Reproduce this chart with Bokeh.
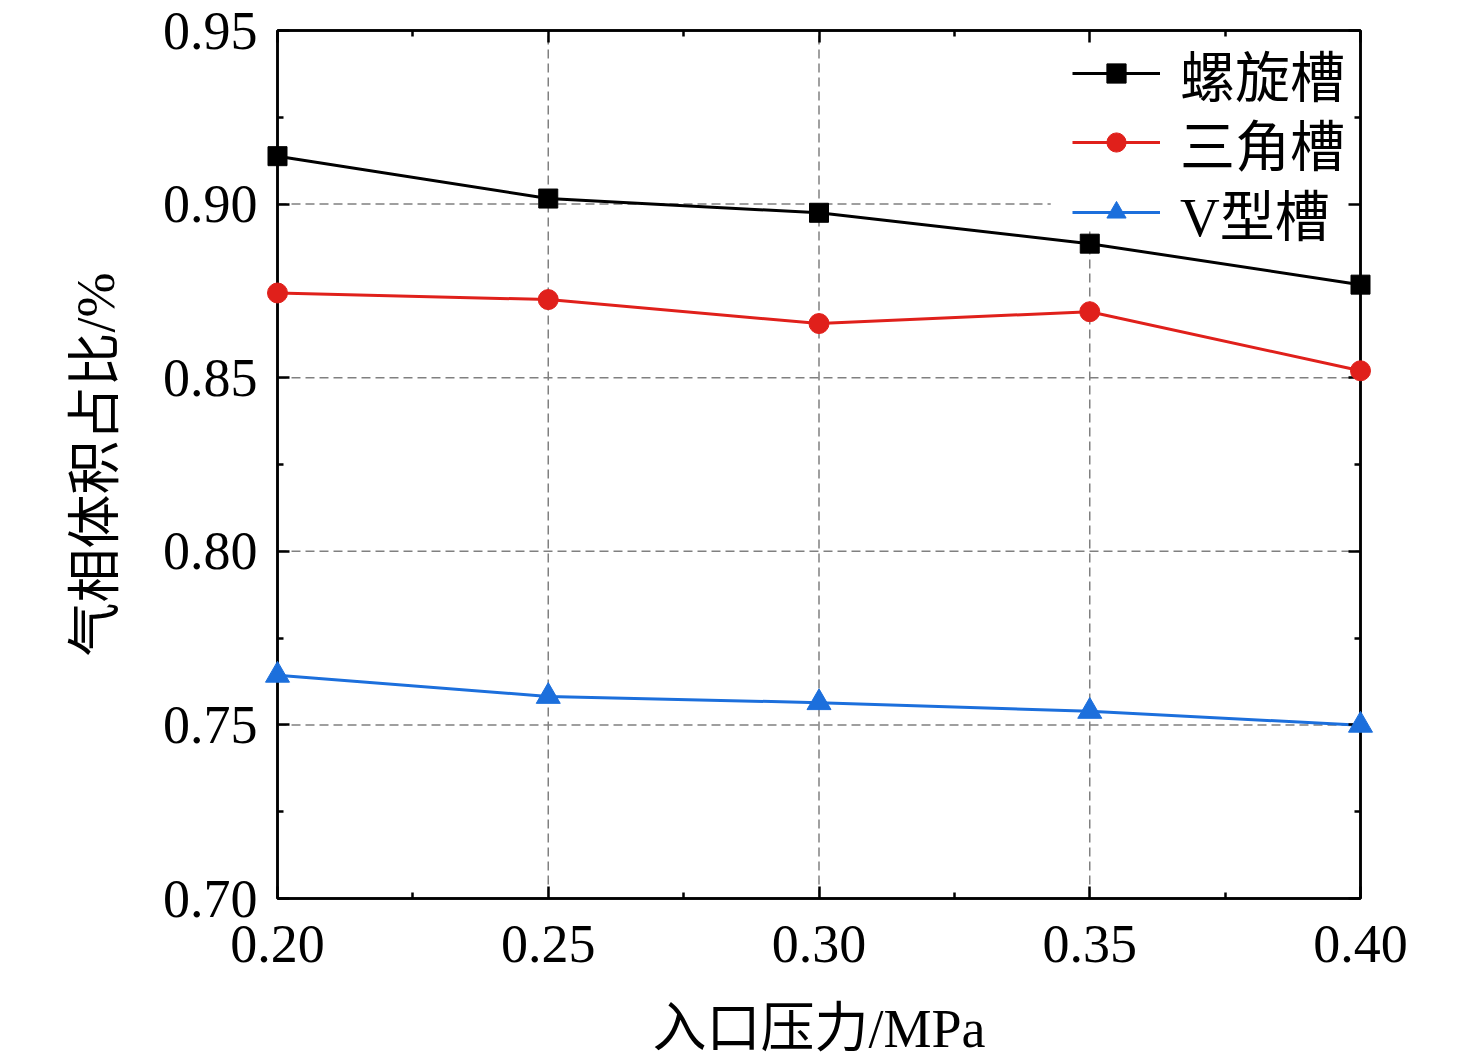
from bokeh.embed import file_html
from bokeh.models import CustomJSTickFormatter, FixedTicker, Legend, LegendItem, LinearAxis, Range1d
from bokeh.plotting import figure
from bokeh.resources import INLINE

pressure = [0.20, 0.25, 0.30, 0.35, 0.40]
spiral = [0.9138, 0.9016, 0.8975, 0.8886, 0.8768]
triangle = [0.8744, 0.8725, 0.8656, 0.8690, 0.8520]
v_groove = [0.7643, 0.7582, 0.7564, 0.7539, 0.7499]

series_names = ["螺旋槽", "三角槽", "V型槽"]
x_ticks = [0.20, 0.25, 0.30, 0.35, 0.40]
y_ticks = [0.70, 0.75, 0.80, 0.85, 0.90, 0.95]
minor_x = [0.225, 0.275, 0.325, 0.375]
minor_y = [0.725, 0.775, 0.825, 0.875, 0.925]

# where the legend box starts (grid lines stop there)
LEGEND_LEFT_X = 0.3428
LEGEND_BOTTOM_Y = 0.8924

FONT = "'Liberation Serif', 'Noto Sans CJK SC'"
RED = "#e0201b"
BLUE = "#1c6fdc"
GRID = "#808080"

p = figure(
    width=1460,
    height=1062,
    output_backend="svg",
    toolbar_location=None,
    x_range=Range1d(0.20, 0.40),
    y_range=Range1d(0.70, 0.95),
    min_border_left=277,
    min_border_top=30,
    min_border_right=100,
    min_border_bottom=164,
)
p.outline_line_color = "black"
p.outline_line_width = 2.5
p.xgrid.grid_line_color = None
p.ygrid.grid_line_color = None

# dashed grid at the inner major ticks, cut where the legend sits
x_min, x_max = x_ticks[0], x_ticks[-1]
y_min, y_max = y_ticks[0], y_ticks[-1]
vx = x_ticks[1:-1]
vtop = [y_max if x < LEGEND_LEFT_X else LEGEND_BOTTOM_Y for x in vx]
hy = y_ticks[1:-1]
hright = [x_max if y < LEGEND_BOTTOM_Y else LEGEND_LEFT_X for y in hy]
p.segment(x0=vx, y0=[y_min] * len(vx), x1=vx, y1=vtop,
          line_color=GRID, line_dash="9 5", line_width=1.5, level="underlay")
p.segment(x0=[x_min] * len(hy), y0=hy, x1=hright, y1=hy,
          line_color=GRID, line_dash="9 5", line_width=1.5, level="underlay")

# mirror axes on top and right, ticks only
top = LinearAxis()
right = LinearAxis()
p.add_layout(top, "above")
p.add_layout(right, "right")

for ax in p.xaxis:
    ax.ticker = FixedTicker(ticks=x_ticks, minor_ticks=minor_x)
for ax in p.yaxis:
    ax.ticker = FixedTicker(ticks=y_ticks, minor_ticks=minor_y)

for ax in p.xaxis + p.yaxis:
    ax.axis_line_width = 2.5
    ax.axis_line_color = "black"
    ax.major_tick_in = 12
    ax.major_tick_out = 0
    ax.minor_tick_in = 6
    ax.minor_tick_out = 0
    ax.major_tick_line_width = 2.5
    ax.minor_tick_line_width = 2.5
    ax.major_label_text_font = FONT
    ax.major_label_text_font_size = "54px"
    ax.major_label_text_color = "black"
    ax.axis_label_text_font = FONT
    ax.axis_label_text_font_size = "54px"
    ax.axis_label_text_font_style = "normal"
    ax.axis_label_text_color = "black"

for ax in (top, right):
    ax.major_label_text_font_size = "0px"
    ax.major_label_standoff = 0

fmt = CustomJSTickFormatter(code="return tick.toFixed(2);")
p.below[0].formatter = fmt
p.left[0].formatter = fmt
p.below[0].major_label_standoff = 27
p.left[0].major_label_standoff = 20
p.below[0].axis_label = "入口压力/MPa"
p.left[0].axis_label = "气相体积占比/%"
p.below[0].axis_label_standoff = 34
p.left[0].axis_label_standoff = 34

l1 = p.line(pressure, spiral, line_color="black", line_width=3)
m1 = p.scatter(pressure, spiral, marker="square", size=19, color="black", level="overlay")
l2 = p.line(pressure, triangle, line_color=RED, line_width=3)
m2 = p.scatter(pressure, triangle, marker="circle", size=20, color=RED, level="overlay")
l3 = p.line(pressure, v_groove, line_color=BLUE, line_width=3)
m3 = p.scatter(pressure, v_groove, marker="triangle", size=24, color=BLUE, level="overlay")

# one legend per row so the rows can sit closer than bokeh's text box height
rows = [(series_names[0], [l1, m1], 785), (series_names[1], [l2, m2], 716), (series_names[2], [l3, m3], 646)]
for name, rends, y_pos in rows:
    lg = Legend(
        items=[LegendItem(label=name, renderers=rends)],
        location=(795, y_pos),
        border_line_color=None,
        background_fill_alpha=0.0,
        label_text_font=FONT,
        label_text_font_size="55px",
        label_text_color="black",
        glyph_width=88,
        glyph_height=48,
        label_height=40,
        label_standoff=20,
        padding=0,
        margin=0,
    )
    p.add_layout(lg)

open("out.html", "w").write(file_html(p, INLINE))
